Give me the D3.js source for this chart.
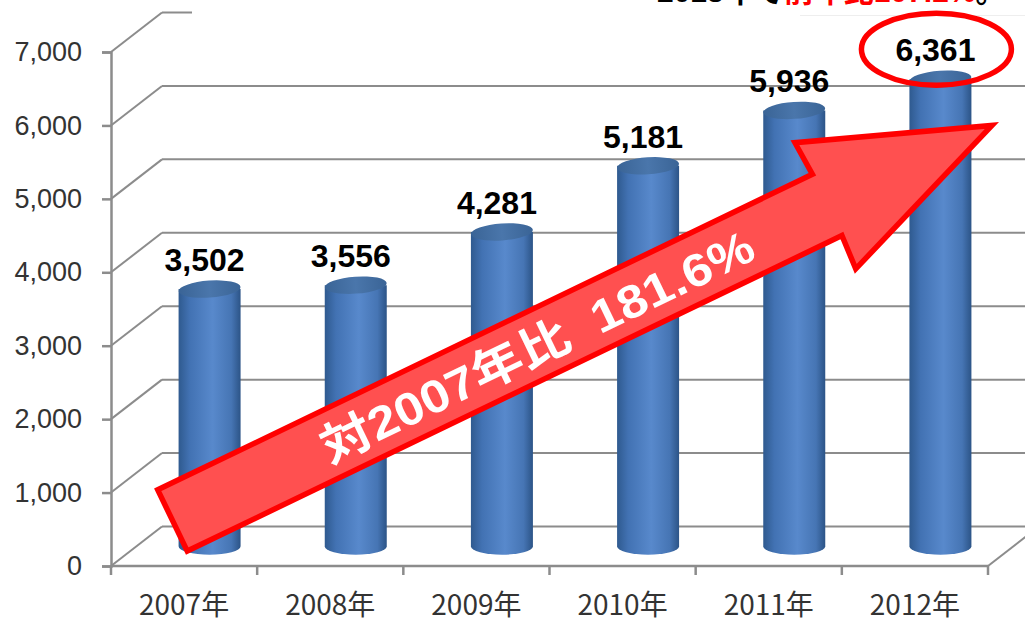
<html>
<head>
<meta charset="utf-8">
<script src="https://d3js.org/d3.v7.min.js"></script>
<style>
  body { margin: 0; background: #fff; }
  text { font-family: "Liberation Sans", Arial, "Noto Sans CJK JP", sans-serif; }
</style>
</head>
<body>
<div id="chart"></div>
<script>
// data
var years = ["2007年", "2008年", "2009年", "2010年", "2011年", "2012年"];
var values = [3502, 3556, 4281, 5181, 5936, 6361];
var yTicks = [0, 1000, 2000, 3000, 4000, 5000, 6000, 7000];
var arrowText = "対2007年比  181.6%";

var width = 1025, height = 621;
var depthX = 51, depthY = -39.5;   // 3d wall offset
var gridColor = "#8c8c8c";

var svg = d3.select("#chart").append("svg")
  .attr("width", width).attr("height", height);

var x = d3.scaleBand().domain(years).range([111, 988]).padding(0);
var y = d3.scaleLinear().domain([0, 7000]).range([566, 52]);

var defs = svg.append("defs");
var grad = defs.append("linearGradient").attr("id", "barGrad")
  .attr("x1", "0%").attr("x2", "100%").attr("y1", "0%").attr("y2", "0%");
grad.append("stop").attr("offset", "0%").attr("stop-color", "#2f5a8f");
grad.append("stop").attr("offset", "18%").attr("stop-color", "#4272b3");
grad.append("stop").attr("offset", "55%").attr("stop-color", "#5889cc");
grad.append("stop").attr("offset", "85%").attr("stop-color", "#4675b4");
grad.append("stop").attr("offset", "100%").attr("stop-color", "#2c5487");
var topGrad = defs.append("linearGradient").attr("id", "topGrad")
  .attr("x1", "0%").attr("x2", "100%").attr("y1", "0%").attr("y2", "0%");
topGrad.append("stop").attr("offset", "0%").attr("stop-color", "#3a6496");
topGrad.append("stop").attr("offset", "50%").attr("stop-color", "#4a76ab");
topGrad.append("stop").attr("offset", "100%").attr("stop-color", "#3a6496");

var x0 = x.range()[0], x1 = x.range()[1];

// back wall + side wall gridlines
var grid = svg.append("g");
grid.selectAll(".side").data(yTicks).enter().append("line")
  .attr("x1", x0).attr("y1", function(d){ return y(d); })
  .attr("x2", x0 + depthX).attr("y2", function(d){ return y(d) + depthY; })
  .attr("stroke", gridColor).attr("stroke-width", 2);
grid.selectAll(".back").data(yTicks).enter().append("line")
  .attr("x1", x0 + depthX).attr("y1", function(d){ return y(d) + depthY; })
  .attr("x2", x1 + depthX).attr("y2", function(d){ return y(d) + depthY; })
  .attr("stroke", gridColor).attr("stroke-width", 2);
// floor right edge
grid.append("line")
  .attr("x1", x1).attr("y1", y(0))
  .attr("x2", x1 + depthX).attr("y2", y(0) + depthY)
  .attr("stroke", gridColor).attr("stroke-width", 2);

// white box over the top area (title box of the slide)
svg.append("rect").attr("x", 192).attr("y", -2).attr("width", 840).attr("height", 17)
  .attr("fill", "#fff");
svg.append("line").attr("x1", 800).attr("x2", width).attr("y1", 15.5).attr("y2", 15.5)
  .attr("stroke", "#eeeeee").attr("stroke-width", 1);

// cut-off title text at the very top
var title = svg.append("text").attr("x", 657).attr("y", 2)
  .attr("font-size", 30).attr("font-weight", "bold");
title.append("tspan").attr("fill", "#000").text("2013年で");
title.append("tspan").attr("fill", "#ff0000").text("前年比107.2%");
title.append("tspan").attr("fill", "#000").text("。");

// axes
var yAxis = svg.append("g").attr("transform", "translate(" + x0 + ",0)")
  .call(d3.axisLeft(y).tickValues(yTicks).tickFormat(d3.format(",")).tickSize(9).tickPadding(20));
yAxis.select(".domain").attr("stroke", gridColor).attr("stroke-width", 2.5);
yAxis.selectAll(".tick line").attr("stroke", gridColor).attr("stroke-width", 2.5);
yAxis.selectAll(".tick text").attr("font-size", 27).attr("fill", "#333")
  .attr("font-family", "Liberation Sans, Arial, sans-serif");

svg.append("line").attr("x1", x0).attr("x2", x1).attr("y1", y(0)).attr("y2", y(0))
  .attr("stroke", gridColor).attr("stroke-width", 2.5);
var edges = years.map(function(d){ return x(d); }).concat([x1]);
svg.selectAll(".xtick").data(edges).enter().append("line")
  .attr("x1", function(d){ return d; }).attr("x2", function(d){ return d; })
  .attr("y1", y(0)).attr("y2", y(0) + 9)
  .attr("stroke", gridColor).attr("stroke-width", 2.5);
svg.selectAll(".xlab").data(years).enter().append("text")
  .attr("x", function(d){ return x(d) + x.bandwidth() / 2; })
  .attr("y", 615)
  .attr("text-anchor", "middle")
  .attr("font-size", 28).attr("fill", "#333")
  .style("font-family", "'Noto Sans CJK JP', sans-serif")
  .text(function(d){ return d; });

// cylinders
var rx = 31, ry = 8.5;
var floorY = y(0) + depthY / 2;
function cx(i){ return x(years[i]) + x.bandwidth() / 2 + depthX / 2; }
function topY(v){ return floorY - (y(0) - y(v)); }

var bars = svg.append("g").selectAll("g").data(values).enter().append("g");
bars.append("path")
  .attr("d", function(d, i){
    var c = cx(i), t = topY(d);
    return "M" + (c - rx) + "," + t + "L" + (c - rx) + "," + floorY +
      "A" + rx + "," + ry + " 0 0 0 " + (c + rx) + "," + floorY +
      "L" + (c + rx) + "," + t + "Z";
  })
  .attr("fill", "url(#barGrad)");
bars.append("ellipse")
  .attr("cx", function(d, i){ return cx(i); })
  .attr("cy", function(d){ return topY(d); })
  .attr("rx", rx).attr("ry", ry)
  .attr("fill", "url(#topGrad)")
  .attr("transform", function(d, i){ return "rotate(-4," + cx(i) + "," + topY(d) + ")"; });

// value labels
svg.selectAll(".val").data(values).enter().append("text")
  .attr("x", function(d, i){ return cx(i) - 5; })
  .attr("y", function(d){ return topY(d) - 18; })
  .attr("text-anchor", "middle")
  .attr("font-size", 32).attr("font-weight", "bold").attr("fill", "#000")
  .text(function(d){ return d3.format(",")(d); });

// red circle around the last value
var last = values.length - 1;
svg.append("ellipse")
  .attr("cx", cx(last) - 4).attr("cy", topY(values[last]) - 30)
  .attr("rx", 75).attr("ry", 36)
  .attr("fill", "none").attr("stroke", "#ff0000").attr("stroke-width", 5.5);

// big arrow
var tail = [x0 + 61.5, y(620)];
var tip = [x1 + 4, y(6000)];
var ddx = tip[0] - tail[0], ddy = tip[1] - tail[1];
var len = Math.sqrt(ddx * ddx + ddy * ddy);
var ang = Math.atan2(ddy, ddx) * 180 / Math.PI;
var hw = 34, headW = 70, headStart = len - 183;
var pts = [[0, -hw], [headStart, -hw], [headStart - 2, -headW], [len, 0],
           [headStart - 2, headW], [headStart, hw], [0, hw]];
var arrow = svg.append("g")
  .attr("transform", "translate(" + tail[0] + "," + tail[1] + ") rotate(" + ang + ")");
arrow.append("path")
  .attr("d", d3.line()(pts) + "Z")
  .attr("fill", "#ff5050").attr("stroke", "#ff0000")
  .attr("stroke-width", 5.5).attr("stroke-linejoin", "miter");
arrow.append("text")
  .attr("x", 404).attr("y", 2)
  .attr("text-anchor", "middle").attr("dominant-baseline", "central")
  .attr("font-size", 46).attr("font-weight", "bold").attr("fill", "#fff")
  .attr("textLength", 475).attr("lengthAdjust", "spacingAndGlyphs")
  .style("white-space", "pre")
  .text(arrowText);
</script>
</body>
</html>
